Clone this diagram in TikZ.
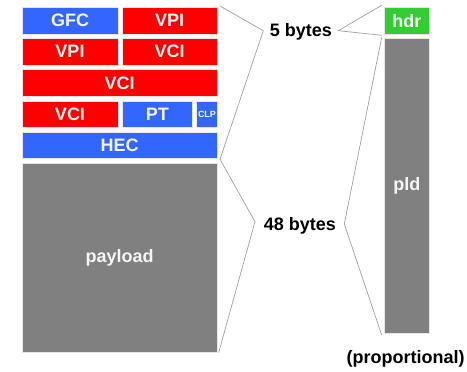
\documentclass[tikz,border=0pt]{standalone}
\usepackage{fontspec}
\setmainfont{Liberation Sans}
\definecolor{fblue}{HTML}{3366FF}
\definecolor{fred}{HTML}{FF0000}
\definecolor{fgreen}{HTML}{33CC33}
\definecolor{fgrey}{HTML}{808080}
\definecolor{edge}{HTML}{E6E6E6}
\definecolor{bracket}{HTML}{A0A0A0}
\begin{document}
\begin{tikzpicture}[x=1pt,y=-1pt,
  field/.style={draw=edge,line width=0.8pt,inner sep=0pt,outer sep=0pt,
    text=white!96!black,font=\fontsize{18}{18}\selectfont\bfseries},
  blue/.style={field,fill=fblue},
  red/.style={field,fill=fred},
  green/.style={field,fill=fgreen},
  grey/.style={field,fill=fgrey},
  sz/.style 2 args={minimum width=#1pt,minimum height=#2pt},
  label/.style={font=\fontsize{18}{18}\selectfont\bfseries,inner sep=1pt},
  brace/.style={draw=bracket,line width=0.7pt}]
\useasboundingbox (0,0) rectangle (467,372);

% ATM cell header fields
\node[blue,sz={96}{27}]   (gfc)  at (70,20.8)    {GFC};
\node[red,sz={95.3}{27}]  (vpia) at (169.7,20.8) {VPI};
\node[red,sz={96}{27}]    (vpib) at (70,51.8)    {VPI};
\node[red,sz={95.3}{27}]  (vcia) at (169.7,51.8) {VCI};
\node[red,sz={195.3}{27}] (vcib) at (119.7,83.2) {VCI};
\node[red,sz={96}{26.7}]  (vcic) at (70,114.3)   {VCI};
\node[blue,sz={70.7}{26.7}] (pt) at (157.3,114.3) {PT};
\node[blue,sz={20.6}{26.7},font=\fontsize{9}{9}\selectfont\bfseries] (clp) at (207,114.3) {CLP};
\node[blue,sz={195.3}{26.7}] (hec) at (119.7,145.3) {HEC};
% payload
\node[grey,sz={195.3}{188.7}] (payload) at (119.7,257.7) {payload};

% proportional view
\node[green,sz={45.7}{27}] (hdr) at (406.8,20.8) {hdr};
\node[grey,sz={45.7}{295}] (pld) at (406.8,185.8) {pld};

% size labels
\node[label] (five)  at (301,32.3)  {5 bytes};
\node[label] (forty) at (300,225.7) {48 bytes};
\node[label] (prop)  at (405.7,359) {(proportional)};

% bracket end points
\coordinate (lt) at (220,6);
\coordinate (lm) at (220,159.3);
\coordinate (lb) at (218.7,352.5);
\coordinate (rt) at (381.7,5.3);
\coordinate (rm1) at (381.7,35.3);
\coordinate (rm2) at (381.7,37.3);
\coordinate (rb) at (381.7,335);

% brackets pointing at the labels
\draw[brace] (lt) -- (263.3,30.7) -- (lm);
\draw[brace] (lm) -- (255,221.7) -- (lb);
\draw[brace] (rt) -- (338.3,30.7) -- (rm1);
\draw[brace] (rm2) -- (344.3,224) -- (rb);
\end{tikzpicture}
\end{document}
